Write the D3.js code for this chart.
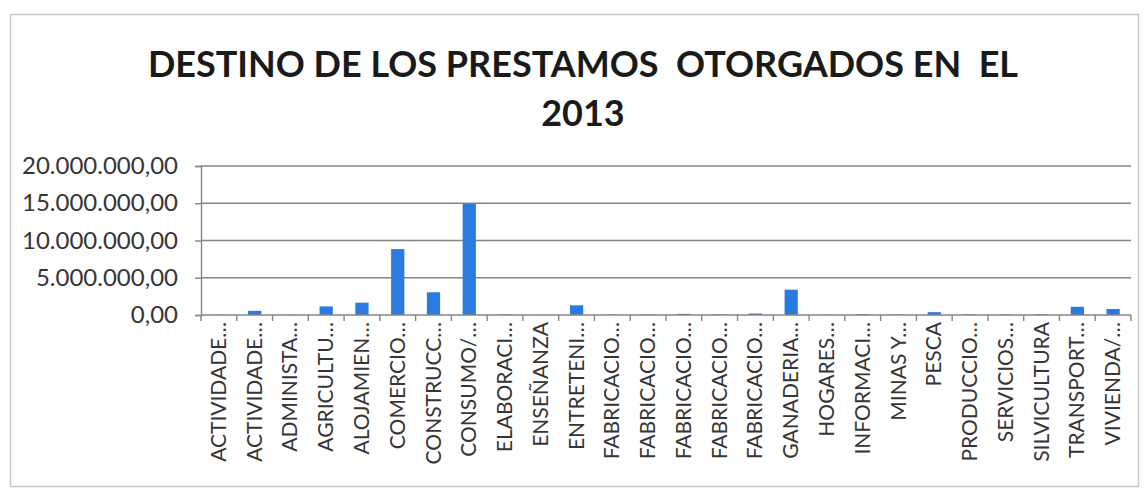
<!DOCTYPE html>
<html><head><meta charset="utf-8">
<script src="https://cdn.jsdelivr.net/npm/d3@7"></script>
<style>
html,body{margin:0;padding:0;background:#fff;}
svg{display:block;}
</style></head>
<body>
<script>
const titleLines = ["DESTINO DE LOS PRESTAMOS  OTORGADOS EN  EL", "2013"];
const categories = ["ACTIVIDADE…","ACTIVIDADE…","ADMINISTA…","AGRICULTU…","ALOJAMIEN…","COMERCIO…","CONSTRUCC…","CONSUMO/…","ELABORACI…","ENSEÑANZA","ENTRETENI…","FABRICACIO…","FABRICACIO…","FABRICACIO…","FABRICACIO…","FABRICACIO…","GANADERIA…","HOGARES…","INFORMACI…","MINAS Y…","PESCA","PRODUCCIO…","SERVICIOS…","SILVICULTURA","TRANSPORT…","VIVIENDA/…"];
const values = [20000, 560000, 30000, 1150000, 1650000, 8850000, 3050000, 14900000, 60000, 10000, 1300000, 40000, 60000, 150000, 60000, 200000, 3400000, 20000, 120000, 40000, 380000, 80000, 60000, 100000, 1100000, 800000];
const yTicks = [0, 5000000, 10000000, 15000000, 20000000];

const W = 1145, H = 489;
const m = {left: 201, right: 1131, top: 166, bottom: 315};
const svg = d3.select("body").append("svg").attr("width", W).attr("height", H);

svg.append("rect").attr("x", 10.5).attr("y", 14.5).attr("width", 1128).attr("height", 472)
  .attr("fill", "#fff").attr("stroke", "#c8c8c8").attr("stroke-width", 1.5);

const x = d3.scaleBand().domain(d3.range(categories.length)).range([m.left, m.right]).paddingInner(0.63).paddingOuter(0.315);
const y = d3.scaleLinear().domain([0, 20000000]).range([m.bottom, m.top]);
const fmt = v => d3.format(",.2f")(v).replace(/,/g, "#").replace(/\./g, ",").replace(/#/g, ".");

// gridlines
svg.append("g").selectAll("line").data(yTicks.slice(1)).join("line")
  .attr("x1", m.left).attr("x2", m.right).attr("y1", d => y(d)).attr("y2", d => y(d))
  .attr("stroke", "#858585").attr("stroke-width", 1.4);

// y axis
const yAxis = svg.append("g").attr("transform", `translate(${m.left},0)`)
  .call(d3.axisLeft(y).tickValues(yTicks).tickFormat(fmt).tickSize(6).tickPadding(17));
yAxis.select(".domain").attr("stroke", "#858585").attr("stroke-width", 1.4);
yAxis.selectAll(".tick line").attr("stroke", "#858585").attr("stroke-width", 1.4);
yAxis.selectAll("text").attr("font-family", "Lato").attr("font-size", 24).attr("fill", "#353535");

// bars
svg.append("g").selectAll("rect").data(values).join("rect")
  .attr("x", (d, i) => x(i)).attr("width", x.bandwidth())
  .attr("y", d => y(d)).attr("height", d => y(0) - y(d))
  .attr("fill", "#2a7be0");

// x axis baseline
svg.append("line").attr("x1", m.left).attr("x2", m.right).attr("y1", y(0)).attr("y2", y(0))
  .attr("stroke", "#858585").attr("stroke-width", 1.4);
// boundary ticks
const step = x.step();
svg.append("g").selectAll("line").data(d3.range(categories.length + 1)).join("line")
  .attr("x1", i => m.left + i * step).attr("x2", i => m.left + i * step)
  .attr("y1", y(0)).attr("y2", y(0) + 6)
  .attr("stroke", "#858585").attr("stroke-width", 1.4);

// x labels
svg.append("g").selectAll("text").data(categories).join("text")
  .attr("transform", (d, i) => `translate(${x(i) + x.bandwidth() / 2 + 7},${y(0) + 7}) rotate(-90)`)
  .attr("text-anchor", "end")
  .attr("font-family", "Lato").attr("font-size", 21).attr("fill", "#353535")
  .text(d => d);

// title
svg.append("g").selectAll("text").data(titleLines).join("text")
  .attr("x", 583).attr("y", (d, i) => 77 + i * 49)
  .attr("text-anchor", "middle")
  .style("white-space", "pre")
  .attr("font-family", "Lato").attr("font-weight", "bold").attr("font-size", 36).attr("fill", "#1a1a1a")
  .text(d => d);
</script>
</body></html>
